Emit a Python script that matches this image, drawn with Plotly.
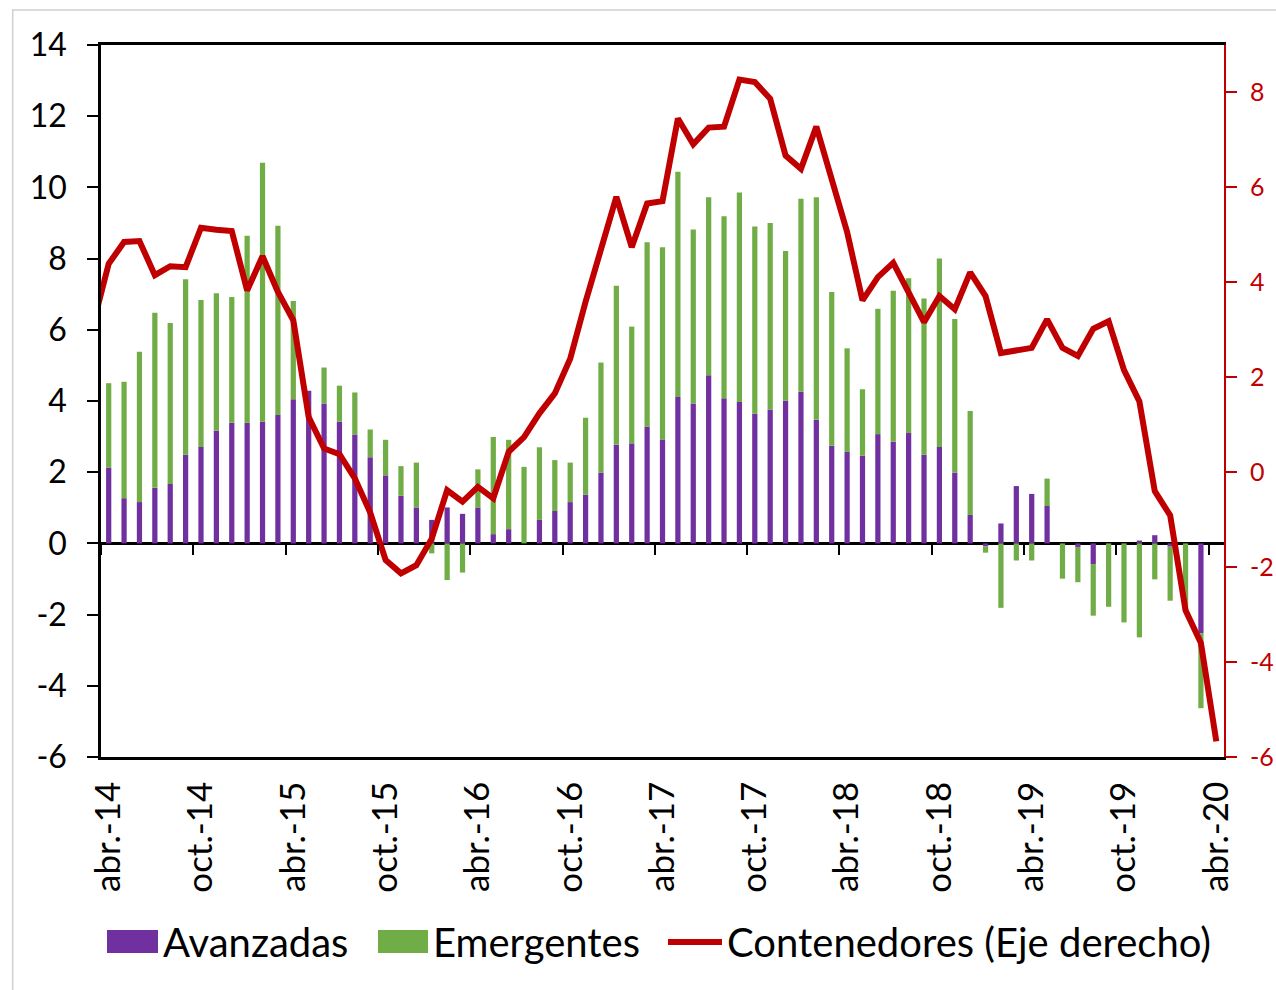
import plotly.graph_objects as go

# ---------------- data ----------------
tick_labels = ["abr.-14", "oct.-14", "abr.-15", "oct.-15", "abr.-16", "oct.-16",
               "abr.-17", "oct.-17", "abr.-18", "oct.-18", "abr.-19", "oct.-19",
               "abr.-20"]

# monthly, abr.-14 ... abr.-20 (73 months); last month has no bar data
avanzadas = [2.13, 1.27, 1.16, 1.56, 1.67, 2.49, 2.71, 3.17, 3.39, 3.39, 3.42, 3.61,
             4.05, 4.29, 3.93, 3.42, 3.06, 2.42, 1.91, 1.34, 1.01, 0.66, 1.01, 0.83,
             1.01, 0.26, 0.40, 0.00, 0.66, 0.91, 1.16, 1.37, 1.99, 2.77, 2.81, 3.28,
             2.92, 4.11, 3.93, 4.72, 4.08, 3.97, 3.64, 3.76, 4.01, 4.26, 3.47, 2.74,
             2.57, 2.46, 3.07, 2.86, 3.10, 2.49, 2.71, 1.99, 0.80, -0.08, 0.56, 1.61,
             1.39, 1.05, 0.00, -0.10, -0.58, 0.00, 0.00, 0.08, 0.23, -0.09, 0.00, -2.53,
             None]

emergentes = [2.37, 3.27, 4.22, 4.92, 4.52, 4.93, 4.13, 3.86, 3.53, 5.25, 7.27, 5.31,
              2.76, 0.00, 1.01, 1.01, 1.18, 0.78, 1.00, 0.83, 1.26, -0.28, -1.03, -0.82,
              1.07, 2.73, 2.51, 2.15, 2.04, 1.43, 1.11, 2.16, 3.09, 4.47, 3.28, 5.18,
              5.40, 6.33, 4.89, 5.00, 5.11, 5.89, 5.26, 5.24, 4.20, 5.42, 6.25, 4.32,
              2.91, 1.87, 3.52, 4.24, 4.35, 4.39, 5.29, 4.31, 2.92, -0.18, -1.81, -0.48,
              -0.48, 0.77, -0.99, -0.99, -1.45, -1.78, -2.22, -2.64, -1.01, -1.52, -1.90, -2.10,
              None]

# right axis; first value is the month before abr.-14 (clipped at the left edge)
contenedores = [3.13,
                4.39, 4.85, 4.87, 4.15, 4.34, 4.32, 5.15, 5.11, 5.08, 3.83, 4.55, 3.80,
                3.20, 1.16, 0.50, 0.38, -0.13, -0.85, -1.85, -2.13, -1.96, -1.40, -0.38, -0.62,
                -0.31, -0.55, 0.43, 0.74, 1.24, 1.66, 2.39, 3.59, 4.67, 5.80, 4.74, 5.66,
                5.71, 7.45, 6.91, 7.26, 7.28, 8.27, 8.22, 7.87, 6.67, 6.39, 7.28, 6.18,
                5.06, 3.62, 4.11, 4.41, 3.76, 3.16, 3.71, 3.43, 4.21, 3.71, 2.51, 2.57,
                2.62, 3.22, 2.62, 2.45, 3.02, 3.18, 2.15, 1.49, -0.40, -0.91, -2.91, -3.60,
                -5.67]

left_ticks = [-6, -4, -2, 0, 2, 4, 6, 8, 10, 12, 14]
right_ticks = [-6, -4, -2, 0, 2, 4, 6, 8]

# ---------------- styling ----------------
PURPLE = "#7030A0"
GREEN = "#70AD47"
RED = "#C00000"
FONT = "Lato, Carlito, Calibri, sans-serif"

W, H = 1276, 990
L, R, T, B = 101, 52, 45, 233
PW, PH = W - L - R, H - T - B


def px_x(x):
    return (x - L) / PW


def px_y(y):
    return (T + PH - y) / PH


n = len(avanzadas)
bar_x = list(range(n))
line_x = list(range(-1, n))
tick_pos = [6 * i for i in range(len(tick_labels))]
boundary_ticks = [p - 0.5 for p in tick_pos]
xr = [-0.5, n - 0.5]

fig = go.Figure()
fig.add_trace(go.Bar(x=bar_x, y=avanzadas, name="Avanzadas", width=0.34,
                     marker=dict(color=PURPLE, line=dict(width=0)), showlegend=False))
fig.add_trace(go.Bar(x=bar_x, y=emergentes, name="Emergentes", width=0.34,
                     marker=dict(color=GREEN, line=dict(width=0)), showlegend=False))
fig.add_trace(go.Scatter(x=line_x, y=contenedores, name="Contenedores (Eje derecho)",
                         mode="lines", line=dict(color=RED, width=6),
                         xaxis="x2", yaxis="y2", showlegend=False))

fig.update_layout(
    width=W, height=H,
    margin=dict(l=L, r=R, t=T, b=B, pad=0, autoexpand=False),
    paper_bgcolor="white", plot_bgcolor="white",
    barmode="relative",
    font=dict(family=FONT, color="black"),
    xaxis=dict(range=xr, tickmode="array", tickvals=tick_pos, ticktext=tick_labels,
               tickangle=-90, ticks="", showline=True, linecolor="black", linewidth=2.5,
               mirror=True, showgrid=False, zeroline=False, automargin=False,
               tickfont=dict(family=FONT, size=35, color="black"), ticklabelstandoff=8),
    xaxis2=dict(range=xr, overlaying="x", anchor="free", position=6 / 20,
                tickmode="array", tickvals=boundary_ticks, showticklabels=False,
                ticks="outside", ticklen=11, tickwidth=2, tickcolor="black",
                showline=False, showgrid=False, zeroline=False, automargin=False),
    yaxis=dict(range=[-6, 14], tickmode="array", tickvals=left_ticks,
               ticktext=[str(v) for v in left_ticks],
               ticks="outside", ticklen=11, tickwidth=2, tickcolor="black",
               showline=True, linecolor="black", linewidth=2.5, automargin=False,
               zeroline=True, zerolinecolor="black", zerolinewidth=2.5, showgrid=False,
               tickfont=dict(family=FONT, size=32, color="black"), ticklabelstandoff=14),
    yaxis2=dict(range=[-6, 9], overlaying="y", side="right", anchor="x2",
                tickmode="array", tickvals=right_ticks,
                ticktext=[str(v) for v in right_ticks], automargin=False,
                ticks="outside", ticklen=11, tickwidth=2, tickcolor=RED,
                showline=True, linecolor=RED, linewidth=2, showgrid=False, zeroline=False,
                tickfont=dict(family=FONT, size=25, color=RED), ticklabelstandoff=8),
)

# outer chart border (light grey)
fig.add_shape(type="rect", xref="paper", yref="paper",
              x0=px_x(12.7), x1=px_x(W + 10), y0=px_y(H + 10), y1=px_y(10),
              line=dict(color="#D0D0D0", width=1.5), fillcolor="rgba(0,0,0,0)", layer="below")

# legend drawn manually to reproduce the wide Excel-style swatches
legend_items = [("Avanzadas", PURPLE, "box", 107, 158, 161),
                ("Emergentes", GREEN, "box", 378, 428, 431),
                ("Contenedores (Eje derecho)", RED, "line", 668, 722, 725)]
ly = 942
for text, color, kind, sx0, sx1, tx in legend_items:
    if kind == "box":
        fig.add_shape(type="rect", xref="paper", yref="paper",
                      x0=px_x(sx0), x1=px_x(sx1), y0=px_y(ly + 11), y1=px_y(ly - 12),
                      line=dict(width=0), fillcolor=color)
    else:
        fig.add_shape(type="line", xref="paper", yref="paper",
                      x0=px_x(sx0), x1=px_x(sx1), y0=px_y(ly), y1=px_y(ly),
                      line=dict(color=color, width=6))
    fig.add_annotation(text=text, xref="paper", yref="paper", x=px_x(tx), y=px_y(ly),
                       xanchor="left", yanchor="middle", showarrow=False,
                       font=dict(family=FONT, size=40, color="black"))

fig.write_html("out.html", config={"displayModeBar": False},
               post_script="document.body.style.margin='0';"
                           "document.documentElement.style.overflow='hidden';")
